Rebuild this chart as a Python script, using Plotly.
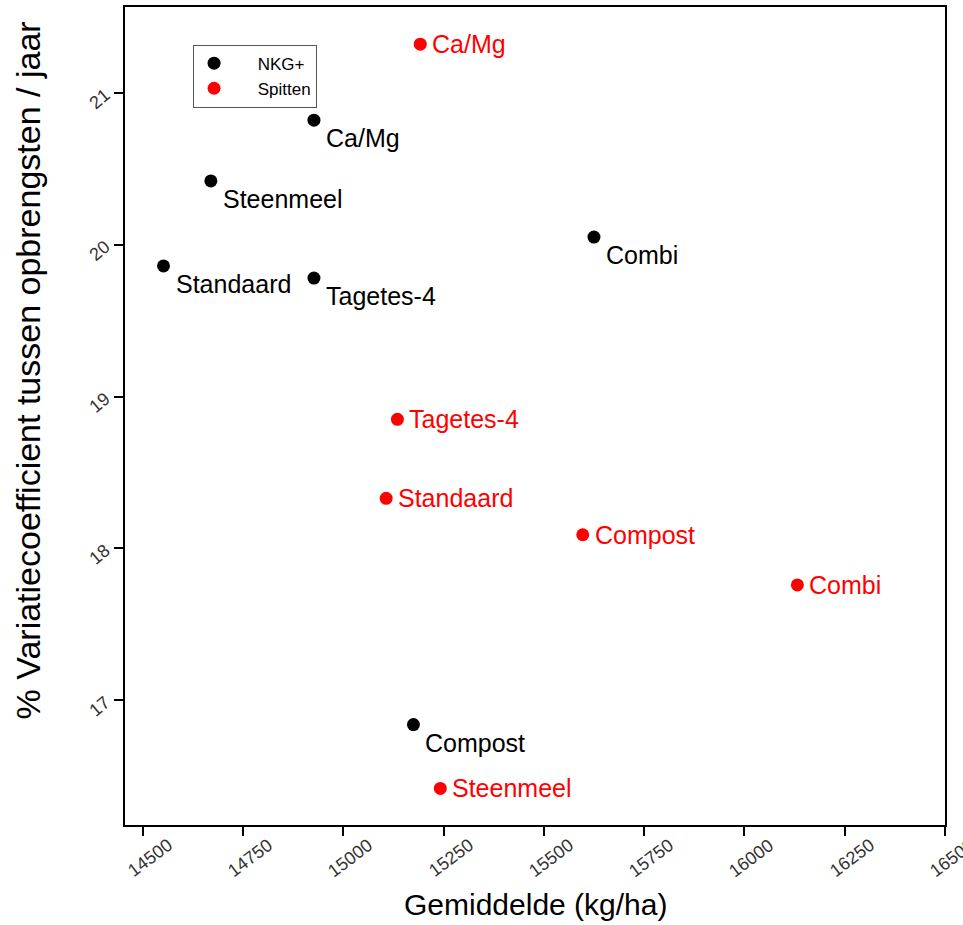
import plotly.graph_objects as go

treatments_nkg = ["Ca/Mg", "Steenmeel", "Standaard", "Tagetes-4", "Combi", "Compost"]
yield_nkg = [14927, 14670, 14552, 14927, 15625, 15175]
cv_nkg = [20.82, 20.42, 19.86, 19.78, 20.05, 16.84]

treatments_spit = ["Ca/Mg", "Tagetes-4", "Standaard", "Compost", "Combi", "Steenmeel"]
yield_spit = [15192, 15135, 15107, 15597, 16132, 15242]
cv_spit = [21.32, 18.85, 18.33, 18.09, 17.76, 16.42]

x_ticks = [14500, 14750, 15000, 15250, 15500, 15750, 16000, 16250, 16500]
y_ticks = [17, 18, 19, 20, 21]

x_title = "Gemiddelde (kg/ha)"
y_title = "% Variatiecoefficient tussen opbrengsten / jaar"

FONT = "Liberation Sans, Arial, sans-serif"

fig = go.Figure()
fig.add_trace(go.Scatter(x=yield_nkg, y=cv_nkg, mode="markers", name="&nbsp;&nbsp;&nbsp;&nbsp;&nbsp;NKG+",
                         marker=dict(color="black", size=13)))
fig.add_trace(go.Scatter(x=yield_spit, y=cv_spit, mode="markers", name="&nbsp;&nbsp;&nbsp;&nbsp;&nbsp;Spitten",
                         marker=dict(color="#ff0000", size=13)))

annotations = []
for t, x, y in zip(treatments_nkg, yield_nkg, cv_nkg):
    annotations.append(dict(x=x, y=y, text=t, showarrow=False, xanchor="left", yanchor="middle",
                            xshift=10, yshift=-18, font=dict(family=FONT, size=25, color="black")))
for t, x, y in zip(treatments_spit, yield_spit, cv_spit):
    annotations.append(dict(x=x, y=y, text=t, showarrow=False, xanchor="left", yanchor="middle",
                            xshift=10, yshift=0, font=dict(family=FONT, size=25, color="#ff0000")))
# x tick labels, rotated and centred near each tick
for v in x_ticks:
    annotations.append(dict(x=v, xref="x", y=0, yref="paper", text=str(v), showarrow=False,
                            textangle=-37, xanchor="center", yanchor="top", xshift=7, yshift=-7,
                            font=dict(family=FONT, size=18, color="#333333")))
# axis titles
annotations.append(dict(x=0.5, xref="paper", y=-0.0976, yref="paper", text=x_title, showarrow=False,
                        xanchor="center", yanchor="middle", font=dict(family=FONT, size=30, color="black")))
annotations.append(dict(x=-0.118, xref="paper", y=0.556, yref="paper", text=y_title, showarrow=False,
                        textangle=-90, xanchor="center", yanchor="middle",
                        font=dict(family=FONT, size=34, color="black")))

fig.update_layout(
    width=963, height=925,
    margin=dict(l=125, r=18, t=5, b=100),
    paper_bgcolor="white", plot_bgcolor="white",
    font=dict(family=FONT),
    annotations=annotations,
    showlegend=True,
    legend=dict(x=0.083, y=0.954, xanchor="left", yanchor="top",
                bordercolor="#555555", borderwidth=1, bgcolor="white",
                font=dict(family=FONT, size=17, color="black"),
                itemwidth=30, tracegroupgap=0),
    xaxis=dict(range=[14456, 16500], tickvals=x_ticks, showticklabels=False,
               showgrid=False, zeroline=False, showline=True, mirror=True,
               linecolor="black", linewidth=2, ticks="outside", ticklen=9, tickwidth=2,
               tickcolor="black"),
    yaxis=dict(range=[16.179, 21.565], tickvals=y_ticks, ticktext=[str(v) for v in y_ticks],
               showgrid=False, zeroline=False, showline=True, mirror=True,
               linecolor="black", linewidth=2, ticks="outside", ticklen=9, tickwidth=2,
               tickcolor="black", tickangle=-40, ticklabelstandoff=5,
               tickfont=dict(family=FONT, size=18, color="#333333")),
)

fig.write_html("out.html")
